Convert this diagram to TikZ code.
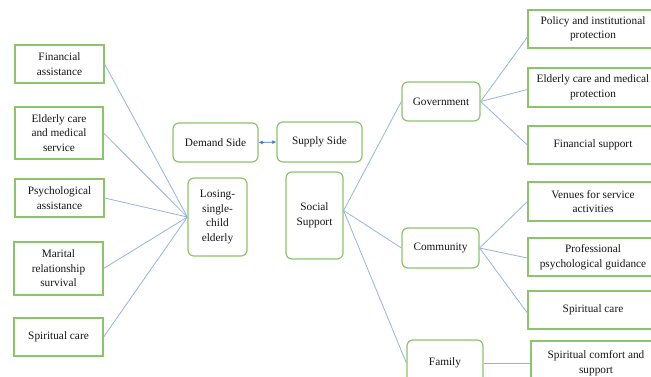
\documentclass[tikz,border=0pt]{standalone}
\usepackage{fontspec}
\setmainfont{Liberation Serif}
\usetikzlibrary{arrows.meta}
\definecolor{boxgreen}{RGB}{140,196,108}
\definecolor{linkblue}{RGB}{150,178,226}
\definecolor{arrblue}{RGB}{70,115,210}
\begin{document}
\begin{tikzpicture}[x=1pt,y=-1pt,
  every node/.style={font=\fontsize{11.3}{14.5}\selectfont, text=black!92, align=center, inner sep=0pt},
  sqbox/.style={draw=boxgreen, line width=1.2pt},
  rbox/.style={draw=boxgreen, line width=1.2pt, rounded corners=6pt},
  link/.style={draw=linkblue, line width=0.8pt}]
\useasboundingbox (0,0) rectangle (651,376);
\clip (0,0) rectangle (651,376);
% left boxes
\node[sqbox, minimum width=89pt, minimum height=38pt] (fa) at (59.5,64) {Financial\\assistance};
\node[sqbox, minimum width=88pt, minimum height=52pt] (ec) at (59,133) {Elderly care\\and medical\\service};
\node[sqbox, minimum width=89pt, minimum height=38pt] (pa) at (59.5,198) {Psychological\\assistance};
\node[sqbox, minimum width=89pt, minimum height=53pt] (mr) at (58.5,268.5) {Marital\\relationship\\survival};
\node[sqbox, minimum width=89pt, minimum height=38pt] (sc) at (58.5,337) {Spiritual care};
% middle
\node[rbox, minimum width=85pt, minimum height=39pt] (dem) at (215.5,142.5) {Demand Side};
\node[rbox, minimum width=85pt, minimum height=40pt] (sup) at (319.5,142) {Supply Side};
\node[rbox, minimum width=59pt, minimum height=78pt] (los) at (217.5,217) {Losing-\\single-\\child\\elderly};
\node[rbox, minimum width=57pt, minimum height=87pt] (soc) at (314.5,215.5) {Social\\Support};
% second level
\node[rbox, minimum width=78pt, minimum height=39pt] (gov) at (441,101.5) {Government};
\node[rbox, minimum width=77pt, minimum height=40pt] (com) at (440.5,248) {Community};
\node[rbox, minimum width=76pt, minimum height=46pt] (fam) at (445,363) {Family};
% right boxes
\node[sqbox, minimum width=130pt, minimum height=38pt] (pol) at (593,29) {Policy and institutional\\protection};
\node[sqbox, minimum width=130pt, minimum height=39pt] (ecm) at (593,87.5) {Elderly care and medical\\protection};
\node[sqbox, minimum width=130pt, minimum height=38pt] (fs) at (593,145) {Financial support};
\node[sqbox, minimum width=130pt, minimum height=39pt] (ven) at (593,201.5) {Venues for service\\activities};
\node[sqbox, minimum width=130pt, minimum height=38pt] (pro) at (593,257) {Professional\\psychological guidance};
\node[sqbox, minimum width=130pt, minimum height=38pt] (spc) at (593,310) {Spiritual care};
\node[sqbox, minimum width=130pt, minimum height=44pt] (scs) at (596,363) {Spiritual comfort and\\support};
% connectors
\foreach \n in {fa,ec,pa,mr,sc} \draw[link] (\n.east) -- (los.west);
\draw[arrblue, line width=0.8pt, {Latex[length=4pt,width=4pt]}-{Latex[length=4pt,width=4pt]}] (dem.east) -- (sup.west);
\draw[link] ([yshift=5pt]soc.east) -- (gov.west);
\draw[link] ([yshift=5pt]soc.east) -- (com.west);
\draw[link] ([yshift=5pt]soc.east) -- (fam.west);
\draw[link] (gov.east) -- ([yshift=-8pt]pol.west);
\draw[link] (gov.east) -- ([yshift=-2pt]ecm.west);
\draw[link] (gov.east) -- (fs.west);
\draw[link] (com.east) -- (ven.west);
\draw[link] (com.east) -- ([yshift=-1pt]pro.west);
\draw[link] (com.east) -- ([yshift=-3pt]spc.west);
\draw[link] (fam.east) -- (scs.west);
\end{tikzpicture}
\end{document}
